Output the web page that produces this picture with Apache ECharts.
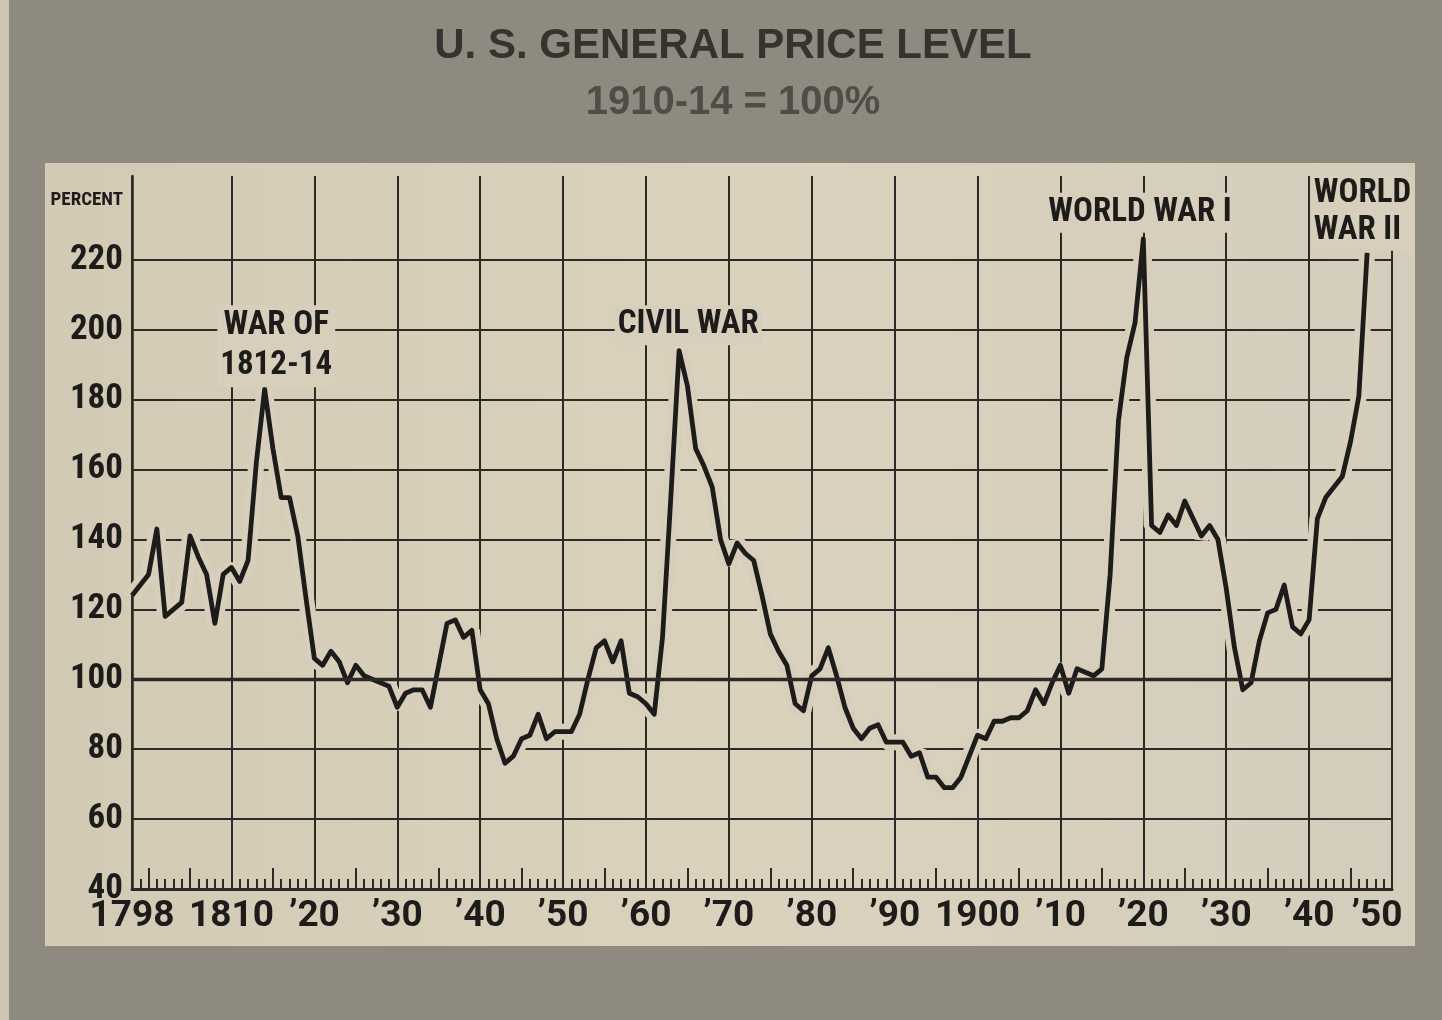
<!DOCTYPE html>
<html>
<head>
<meta charset="utf-8">
<script src="https://cdn.jsdelivr.net/npm/echarts@6/dist/echarts.min.js"></script>
<style>
html,body{margin:0;padding:0;background:#8f8a80;}
#chart{width:1442px;height:1020px;}
</style>
</head>
<body>
<div id="chart"></div>
<script>
// ---- data (1910-14 = 100) ----
const years = [
  1798, 1799,
  1800, 1801, 1802, 1803, 1804, 1805, 1806, 1807, 1808, 1809,
  1810, 1811, 1812, 1813, 1814, 1815, 1816, 1817, 1818, 1819,
  1820, 1821, 1822, 1823, 1824, 1825, 1826, 1827, 1828, 1829,
  1830, 1831, 1832, 1833, 1834, 1835, 1836, 1837, 1838, 1839,
  1840, 1841, 1842, 1843, 1844, 1845, 1846, 1847, 1848, 1849,
  1850, 1851, 1852, 1853, 1854, 1855, 1856, 1857, 1858, 1859,
  1860, 1861, 1862, 1863, 1864, 1865, 1866, 1867, 1868, 1869,
  1870, 1871, 1872, 1873, 1874, 1875, 1876, 1877, 1878, 1879,
  1880, 1881, 1882, 1883, 1884, 1885, 1886, 1887, 1888, 1889,
  1890, 1891, 1892, 1893, 1894, 1895, 1896, 1897, 1898, 1899,
  1900, 1901, 1902, 1903, 1904, 1905, 1906, 1907, 1908, 1909,
  1910, 1911, 1912, 1913, 1914, 1915, 1916, 1917, 1918, 1919,
  1920, 1921, 1922, 1923, 1924, 1925, 1926, 1927, 1928, 1929,
  1930, 1931, 1932, 1933, 1934, 1935, 1936, 1937, 1938, 1939,
  1940, 1941, 1942, 1943, 1944, 1945, 1946, 1947
];
const priceIndex = [
  124, 127,
  130, 143, 118, 120, 122, 141, 135, 130, 116, 130,
  132, 128, 134, 162, 183, 166, 152, 152, 141, 123,
  106, 104, 108, 105, 99, 104, 101, 100, 99, 98,
  92, 96, 97, 97, 92, 104, 116, 117, 112, 114,
  97, 93, 83, 76, 78, 83, 84, 90, 83, 85,
  85, 85, 90, 100, 109, 111, 105, 111, 96, 95,
  93, 90, 112, 152, 194, 184, 166, 161, 155, 140,
  133, 139, 136, 134, 124, 113, 108, 104, 93, 91,
  101, 103, 109, 101, 92, 86, 83, 86, 87, 82,
  82, 82, 78, 79, 72, 72, 69, 69, 72, 78,
  84, 83, 88, 88, 89, 89, 91, 97, 93, 99,
  104, 96, 103, 102, 101, 103, 130, 174, 192, 202,
  226, 144, 142, 147, 144, 151, 146, 141, 144, 140,
  126, 109, 97, 99, 111, 119, 120, 127, 115, 113,
  117, 146, 152, 155, 158, 168, 181, 222
];
const yTickValues = [40, 60, 80, 100, 120, 140, 160, 180, 200, 220];
const xTickYears = [1798, 1810, 1820, 1830, 1840, 1850, 1860, 1870, 1880, 1890, 1900, 1910, 1920, 1930, 1940, 1950];
const xTickLabels = ['1798', '1810', '\u201920', '\u201930', '\u201940', '\u201950', '\u201960', '\u201970', '\u201980', '\u201990', '1900', '\u201910', '\u201920', '\u201930', '\u201940', '\u201950'];
const midTickYears = [1800,1805,1815,1825,1835,1845,1855,1865,1875,1885,1895,1905,1915,1925,1935,1945];
const annotationTexts = ['WAR OF\n1812-14', 'CIVIL WAR', 'WORLD WAR I', 'WORLD\nWAR II'];

// ---- layout / style ----
const annotationAnchors = [
  {coord: [1815.4, 195.3], align: 'center', lineHeight: 40},
  {coord: [1865.1, 201.3], align: 'center', lineHeight: 38},
  {coord: [1919.6, 233.5], align: 'center', lineHeight: 38},
  {coord: [1940.2, 233.5], align: 'left', lineHeight: 37}
];
const PAPER = '#d7cfbb';
const INK = '#1d1c1a';
const GRID = '#2c2a26';
const NARROW = "'Roboto Condensed', 'Archivo Narrow', 'Open Sans Condensed', sans-serif";
const GOTHIC = "Roboto, 'Liberation Sans', sans-serif";
const WIDE = "'Liberation Sans', Arial, sans-serif";

const chart = echarts.init(document.getElementById('chart'), null, {renderer: 'canvas'});
const seriesData = years.map((y, i) => [y, priceIndex[i]]);

const tickAxisBase = {
  type: 'value', min: 1798, max: 1950, position: 'bottom',
  axisLine: {show: false}, axisLabel: {show: false}, splitLine: {show: false}
};
const xLabelFont = {fontFamily: GOTHIC, fontWeight: 'bold', fontSize: 37, color: INK};

chart.setOption({
  animation: false,
  backgroundColor: '#8f8a80',
  title: {
    text: 'U. S. GENERAL PRICE LEVEL',
    subtext: '1910-14 = 100%',
    left: 728,
    top: 20,
    textAlign: 'center',
    itemGap: 16,
    textStyle: {fontFamily: WIDE, fontWeight: 'bold', fontSize: 42, color: '#36332e'},
    subtextStyle: {fontFamily: WIDE, fontWeight: 'bold', fontSize: 40, color: '#514d46'}
  },
  graphic: [
    {type: 'rect', z: -10, silent: true, shape: {x: 45, y: 163, width: 1370, height: 783},
     style: {fill: new echarts.graphic.LinearGradient(0, 0, 1, 0, [
       {offset: 0, color: '#d3cab5'}, {offset: 0.5, color: '#dbd2be'}, {offset: 1, color: '#d4cdbb'}])}},
    {type: 'rect', z: -10, silent: true, shape: {x: 0, y: 0, width: 9, height: 1020}, style: {fill: '#cdc4b1'}},
    {type: 'text', z: 10, silent: true, x: 123, y: 200,
     style: {text: 'PERCENT', fontFamily: NARROW, fontWeight: 'bold', fontSize: 19, fill: INK, align: 'right', verticalAlign: 'middle'}}
  ],
  grid: {left: 132, right: 50, top: 176, bottom: 131},
  xAxis: [
    {
      type: 'value', min: 1798, max: 1950, position: 'bottom',
      axisLine: {show: true, lineStyle: {color: GRID, width: 3}},
      axisTick: {show: false, customValues: xTickYears},
      axisLabel: Object.assign({
        customValues: xTickYears,
        formatter: v => {
          const i = xTickYears.indexOf(v);
          if (i < 0) return '';
          return i === xTickYears.length - 1 ? '{last|' + xTickLabels[i] + '}' : xTickLabels[i];
        },
        margin: 9,
        rich: {last: Object.assign({padding: [0, 30, 0, 0]}, xLabelFont)}
      }, xLabelFont),
      splitLine: {show: true, lineStyle: {color: GRID, width: 2}}
    },
    Object.assign({}, tickAxisBase, {
      interval: 1,
      axisTick: {show: true, inside: true, length: 10, lineStyle: {color: GRID, width: 2}}
    }),
    Object.assign({}, tickAxisBase, {
      axisTick: {show: true, inside: true, length: 21, customValues: midTickYears, lineStyle: {color: GRID, width: 2}}
    })
  ],
  yAxis: {
    type: 'value', min: 40, max: 244, interval: 20,
    axisLine: {show: true, lineStyle: {color: GRID, width: 2.5}},
    axisTick: {show: false},
    axisLabel: {
      formatter: v => (yTickValues.indexOf(v) >= 0 ? String(v) : ''),
      fontFamily: NARROW, fontWeight: 'bold', fontSize: 35, color: INK, margin: 9
    },
    splitLine: {
      show: true,
      lineStyle: {width: 2, color: [GRID, GRID, GRID, GRID, GRID, GRID, GRID, GRID, GRID, GRID, 'rgba(0,0,0,0)', 'rgba(0,0,0,0)']}
    }
  },
  series: [
    {
      type: 'line', name: 'base', data: [], z: 1, silent: true,
      markLine: {
        silent: true, symbol: 'none', label: {show: false},
        lineStyle: {color: GRID, width: 3.4, type: 'solid'},
        data: [{yAxis: 100}]
      }
    },
    {
      type: 'line', name: 'halo', data: seriesData, z: 3, silent: true,
      symbol: 'none', lineStyle: {color: PAPER, width: 16}, emphasis: {disabled: true}
    },
    {
      type: 'line', name: 'price', data: seriesData, z: 4, silent: true,
      symbol: 'none', lineStyle: {color: INK, width: 4.8, join: 'round'}, emphasis: {disabled: true},
      markPoint: {
        silent: true, symbol: 'circle', symbolSize: 0,
        data: annotationTexts.map((t, i) => ({
          coord: annotationAnchors[i].coord,
          value: t,
          label: {
            show: true,
            formatter: t,
            position: annotationAnchors[i].align === 'left' ? 'right' : 'inside',
            distance: 0,
            align: annotationAnchors[i].align,
            verticalAlign: 'middle',
            fontFamily: NARROW, fontWeight: 'bold', fontSize: 33, lineHeight: annotationAnchors[i].lineHeight,
            color: INK, backgroundColor: PAPER, padding: [1, 3]
          }
        }))
      }
    }
  ]
});
</script>
</body>
</html>
